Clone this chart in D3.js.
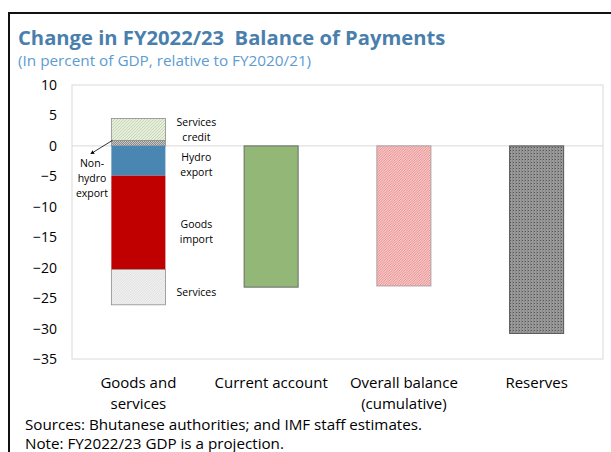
<!DOCTYPE html>
<html>
<head>
<meta charset="utf-8">
<script src="https://cdn.jsdelivr.net/npm/d3@7"></script>
<style>
  body { margin: 0; background: #fff; }
  text { font-family: "Open Sans", sans-serif; }
</style>
</head>
<body>
<div id="chart"></div>
<script>
// categories along the x axis (label lines)
var categories = ["Goods and services", "Current account", "Overall balance", "Reserves"];
var categoryLines = [["Goods and", "services"], ["Current account"], ["Overall balance", "(cumulative)"], ["Reserves"]];

// stacked components of the first bar
var stackKeys = ["Non-hydro export", "Services credit", "Hydro export", "Goods import", "Services"];
var stackValues = [0.9, 3.6, -4.9, -15.4, -5.8];

// single bars
var totalCats = ["Current account", "Overall balance", "Reserves"];
var totalValues = [-23.2, -23.0, -30.8];

var yTicks = [10, 5, 0, -5, -10, -15, -20, -25, -30, -35];

// in-plot labels: text lines and the value they sit next to
var segLabels = [
  {key: "Services credit", lines: ["Services", "credit"], at: 2.7},
  {key: "Hydro export", lines: ["Hydro", "export"], at: -3.1},
  {key: "Goods import", lines: ["Goods", "import"], at: -14.1},
  {key: "Services", lines: ["Services"], at: -24.0}
];

var W = 611, H = 452;
var plot = {left: 72, right: 603, top: 85, bottom: 359};

var svg = d3.select("#chart").append("svg")
  .attr("width", W).attr("height", H);

// patterns
var defs = svg.append("defs");
function hatch(id, bg, fg, size, sw) {
  var p = defs.append("pattern").attr("id", id)
    .attr("patternUnits", "userSpaceOnUse")
    .attr("width", size).attr("height", size);
  p.append("rect").attr("width", size).attr("height", size).attr("fill", bg);
  p.append("path")
    .attr("d", "M0," + size + " L" + size + ",0 M-1,1 L1,-1 M" + (size - 1) + "," + (size + 1) + " L" + (size + 1) + "," + (size - 1))
    .attr("stroke", fg).attr("stroke-width", sw);
}
hatch("pCredit", "#e6efd9", "#b4c2a6", 3, 0.6);
hatch("pNonHydro", "#c8c8c8", "#7a7a7a", 2, 0.8);
hatch("pServices", "#f2f2f2", "#cfcfcf", 2.5, 0.6);
hatch("pOverall", "#f7c9c9", "#e06a6a", 2.5, 0.6);
var pr = defs.append("pattern").attr("id", "pReserves")
  .attr("patternUnits", "userSpaceOnUse").attr("width", 3).attr("height", 3);
pr.append("rect").attr("width", 3).attr("height", 3).attr("fill", "#9a9a9a");
pr.append("rect").attr("width", 1).attr("height", 1).attr("fill", "#555");
pr.append("rect").attr("x", 2).attr("width", 1).attr("height", 3).attr("fill", "#8a8a8a");

var fills = {
  "Non-hydro export": "url(#pNonHydro)",
  "Services credit": "url(#pCredit)",
  "Hydro export": "#4a86b2",
  "Goods import": "#c00000",
  "Services": "url(#pServices)",
  "Current account": "#93b777",
  "Overall balance": "url(#pOverall)",
  "Reserves": "url(#pReserves)"
};

// frame
svg.append("line").attr("x1", 9).attr("x2", 9).attr("y1", 13).attr("y2", H)
  .attr("stroke", "#111").attr("stroke-width", 2);
svg.append("line").attr("x1", 8).attr("x2", W).attr("y1", 13).attr("y2", 13)
  .attr("stroke", "#111").attr("stroke-width", 2);

// titles
svg.append("text").attr("x", 18).attr("y", 45)
  .attr("font-size", "20.2px").attr("font-weight", "bold").attr("fill", "#4a7fad")
  .style("white-space", "pre")
  .text("Change in FY2022/23  Balance of Payments");
svg.append("text").attr("x", 18).attr("y", 66)
  .attr("font-size", "15.3px").attr("fill", "#5d9bd0")
  .text("(In percent of GDP, relative to FY2020/21)");

// scales
var x = d3.scaleBand().domain(categories)
  .range([plot.left, plot.right]).paddingInner(0.593).paddingOuter(0.2965);
var y = d3.scaleLinear().domain([-35, 10]).range([plot.bottom, plot.top]);

// plot area box
svg.append("rect").attr("x", plot.left).attr("y", plot.top)
  .attr("width", plot.right - plot.left).attr("height", plot.bottom - plot.top)
  .attr("fill", "none").attr("stroke", "#d9d9d9").attr("stroke-width", 1);

// zero line
svg.append("line").attr("x1", plot.left).attr("x2", plot.right)
  .attr("y1", y(0)).attr("y2", y(0))
  .attr("stroke", "#d9d9d9").attr("stroke-width", 1);

// y axis
var yAxis = svg.append("g").attr("transform", "translate(" + plot.left + ",0)")
  .call(d3.axisLeft(y).tickValues(yTicks).tickSize(0).tickPadding(15));
yAxis.select(".domain").remove();
yAxis.selectAll("text").attr("font-size", "14px").attr("fill", "#000")
  .attr("font-family", "'Open Sans', sans-serif");

// stacked bar
var row = {};
stackKeys.forEach(function(k, i) { row[k] = stackValues[i]; });
var series = d3.stack().keys(stackKeys).offset(d3.stackOffsetDiverging)([row]);

svg.append("g").selectAll("rect").data(series).enter().append("rect")
  .attr("x", x(categories[0]))
  .attr("width", x.bandwidth())
  .attr("y", function(d) { return y(Math.max(d[0][0], d[0][1])); })
  .attr("height", function(d) { return Math.abs(y(d[0][0]) - y(d[0][1])); })
  .attr("fill", function(d) { return fills[d.key]; })
  .attr("stroke", function(d) { return d.key == "Goods import" || d.key == "Hydro export" ? "none" : "#8c8c8c"; })
  .attr("stroke-width", 0.8);

// single bars
svg.append("g").selectAll("rect").data(totalCats).enter().append("rect")
  .attr("x", function(d) { return x(d); })
  .attr("width", x.bandwidth())
  .attr("y", y(0))
  .attr("height", function(d, i) { return y(totalValues[i]) - y(0); })
  .attr("fill", function(d) { return fills[d]; })
  .attr("stroke", function(d) { return d == "Reserves" ? "#555" : (d == "Current account" ? "#6b6b6b" : "#b0a0a0"); })
  .attr("stroke-width", 1);

// segment labels
var lx = x(categories[0]) + x.bandwidth() + 31;
segLabels.forEach(function(s) {
  var t = svg.append("text").attr("text-anchor", "middle")
    .attr("font-size", "10.5px").attr("fill", "#000");
  var n = s.lines.length;
  s.lines.forEach(function(line, i) {
    t.append("tspan").attr("x", lx)
      .attr("y", y(s.at) + (i - (n - 1) / 2) * 15 + 4)
      .text(line);
  });
});

// non-hydro export callout
var nh = svg.append("text").attr("text-anchor", "middle")
  .attr("font-size", "10.5px").attr("fill", "#000");
["Non-", "hydro", "export"].forEach(function(line, i) {
  nh.append("tspan").attr("x", 92).attr("y", 167 + i * 15).text(line);
});
defs.append("marker").attr("id", "arrow").attr("viewBox", "0 0 10 10")
  .attr("refX", 5).attr("refY", 5).attr("markerWidth", 5).attr("markerHeight", 5)
  .attr("orient", "auto-start-reverse")
  .append("path").attr("d", "M0,0 L10,5 L0,10 z").attr("fill", "#000");
svg.append("line")
  .attr("x1", x(categories[0]) + 1).attr("y1", y(stackValues[0]))
  .attr("x2", 92).attr("y2", 153)
  .attr("stroke", "#000").attr("stroke-width", 0.8)
  .attr("marker-end", "url(#arrow)");

// x labels
categoryLines.forEach(function(lines, i) {
  var t = svg.append("text").attr("text-anchor", "middle")
    .attr("font-size", "15px").attr("fill", "#000");
  lines.forEach(function(line, j) {
    t.append("tspan").attr("x", x(categories[i]) + x.bandwidth() / 2)
      .attr("y", 388 + j * 21).text(line);
  });
});

// notes
svg.append("text").attr("x", 25).attr("y", 430).attr("font-size", "15.2px").attr("fill", "#000")
  .text("Sources: Bhutanese authorities; and IMF staff estimates.");
svg.append("text").attr("x", 25).attr("y", 449).attr("font-size", "15.2px").attr("fill", "#000")
  .text("Note: FY2022/23 GDP is a projection.");
</script>
</body>
</html>
